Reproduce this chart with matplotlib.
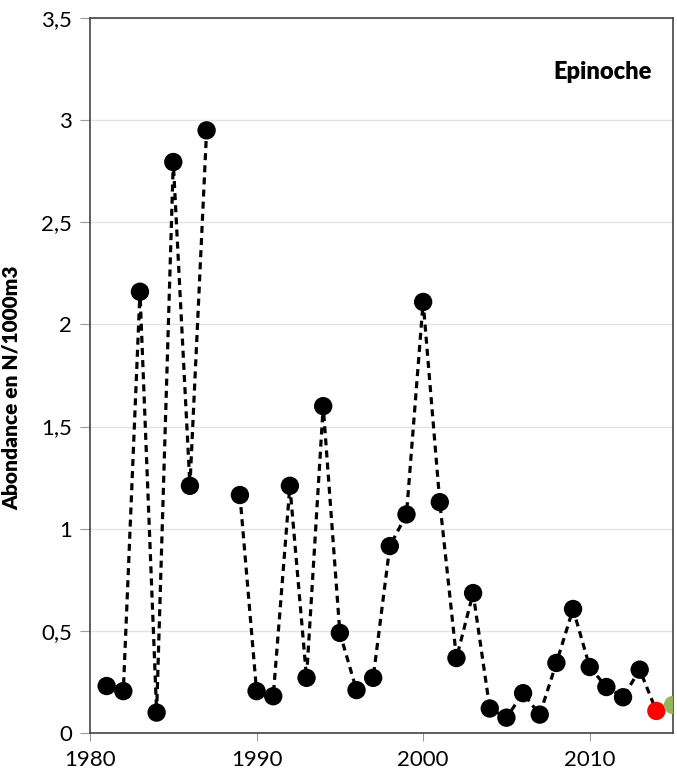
import numpy as np
import matplotlib.pyplot as plt
from matplotlib.ticker import FuncFormatter

plt.rcParams['font.family'] = ['Lato', 'DejaVu Sans']

# abundance series (N/1000m3), 1988 missing
years = [1981, 1982, 1983, 1984, 1985, 1986, 1987, 1988, 1989, 1990,
         1991, 1992, 1993, 1994, 1995, 1996, 1997, 1998, 1999, 2000,
         2001, 2002, 2003, 2004, 2005, 2006, 2007, 2008, 2009, 2010,
         2011, 2012, 2013, 2014, 2015]
abund = [0.23, 0.205, 2.16, 0.10, 2.795, 1.21, 2.95, np.nan, 1.165, 0.205,
         0.18, 1.21, 0.27, 1.60, 0.49, 0.21, 0.27, 0.915, 1.07, 2.11,
         1.13, 0.367, 0.685, 0.12, 0.075, 0.195, 0.09, 0.343, 0.607, 0.323,
         0.225, 0.175, 0.31, 0.108, 0.137]
red_year, green_year = 2014, 2015

fig = plt.figure(figsize=(6.77, 7.73), dpi=100)
ax = fig.add_axes([90 / 677, 40 / 773, 583 / 677, 715 / 773])

years = np.array(years)
abund = np.array(abund)
ax.plot(years, abund, color='black', ls=(0, (2.2, 1.6)), lw=2.3, zorder=2)

colors = []
for y in years:
    if y == red_year:
        colors.append('#ff0000')
    elif y == green_year:
        colors.append('#92b65a')
    else:
        colors.append('black')
ok = ~np.isnan(abund)
ax.scatter(years[ok], abund[ok], s=175, c=[c for c, k in zip(colors, ok) if k],
           zorder=3, clip_on=True, linewidths=0)

ax.set_xlim(1980, 2015)
ax.set_ylim(0, 3.5)
ax.set_xticks([1980, 1990, 2000, 2010])
ax.set_yticks(np.arange(0, 3.51, 0.5))
ax.yaxis.set_major_formatter(FuncFormatter(lambda v, p: ('%g' % v).replace('.', ',')))
ax.grid(axis='y', color='#e3e3e3', lw=1)
ax.set_axisbelow(True)

for s in ax.spines.values():
    s.set_color('#444444')
    s.set_linewidth(1.2)
ax.tick_params(axis='both', direction='out', length=6, color='#999999',
               labelsize=16, pad=6)
ax.tick_params(axis='y', length=7)

ax.set_ylabel('Abondance en N/1000m3', fontsize=15, fontweight='heavy')
ax.yaxis.set_label_coords(-0.118, 0.483)
ax.text(0.88, 0.925, 'Epinoche', transform=ax.transAxes, ha='center', va='center',
        fontsize=17, fontweight='heavy')

fig.savefig('out.png', dpi=100)
